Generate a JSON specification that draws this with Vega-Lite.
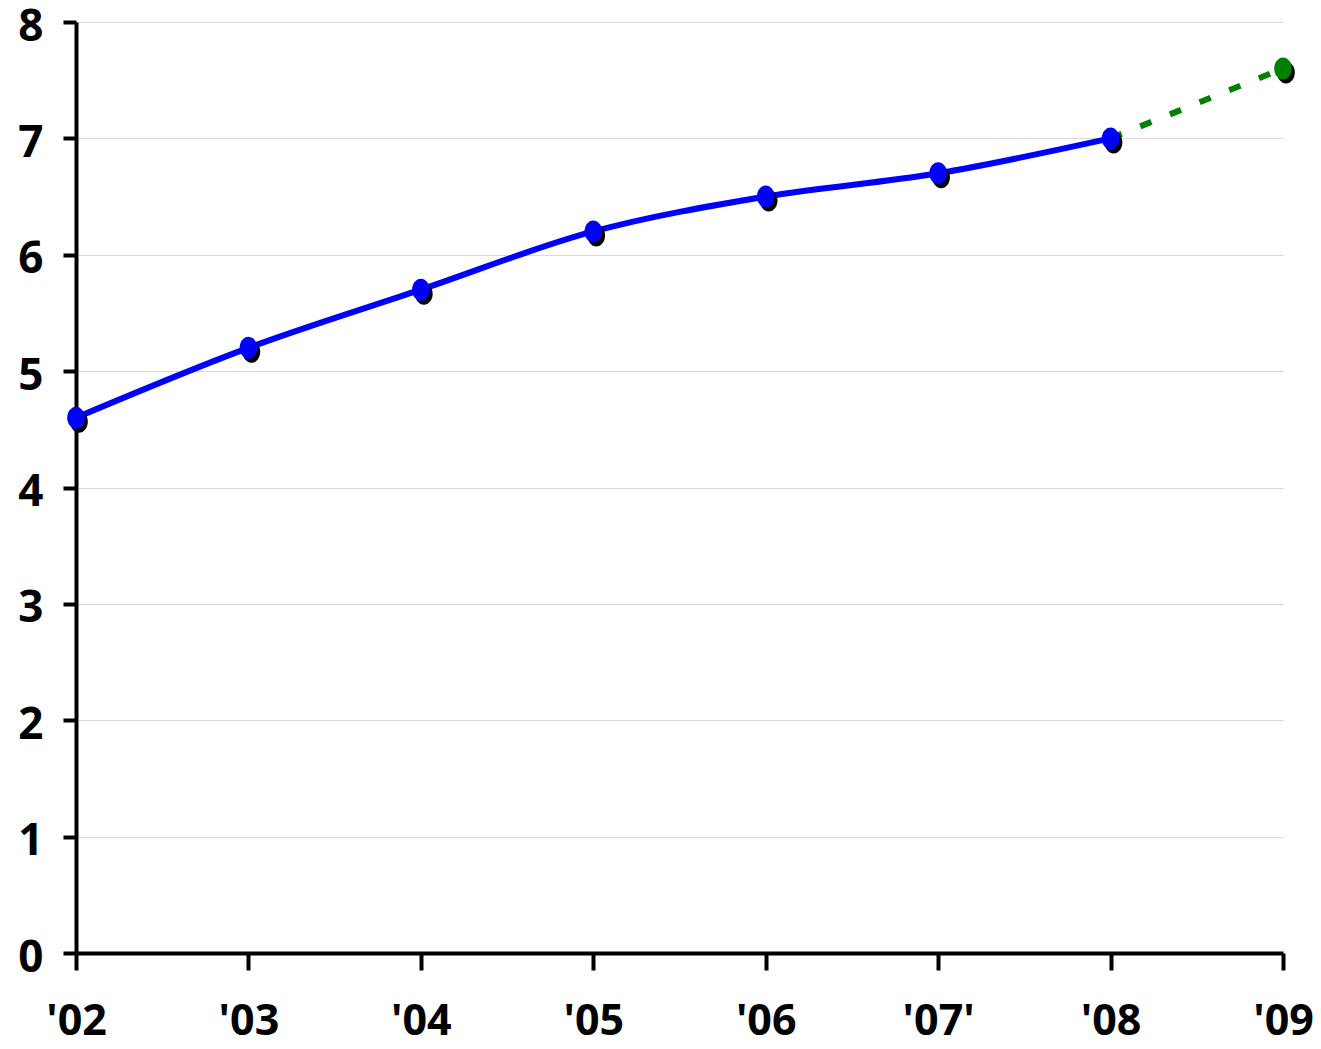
{
  "$schema": "https://vega.github.io/schema/vega-lite/v6.json",
  "width": 1207,
  "height": 931,
  "autosize": "none",
  "padding": {"left": 76, "top": 22, "right": 38, "bottom": 96},
  "background": "white",
  "config": {
    "view": {"stroke": null},
    "font": "Open Sans"
  },
  "data": {
    "values": [
      {"year": "'02", "value": 4.6, "type": "actual"},
      {"year": "'03", "value": 5.2, "type": "actual"},
      {"year": "'04", "value": 5.7, "type": "actual"},
      {"year": "'05", "value": 6.2, "type": "actual"},
      {"year": "'06", "value": 6.5, "type": "actual"},
      {"year": "'07'", "value": 6.7, "type": "actual"},
      {"year": "'08", "value": 7.0, "type": "actual"},
      {"year": "'09", "value": 7.6, "type": "forecast"}
    ]
  },
  "encoding": {
    "x": {
      "field": "year",
      "type": "ordinal",
      "sort": null,
      "scale": {"type": "point", "padding": 0, "domain": ["'02", "'03", "'04", "'05", "'06", "'07'", "'08", "'09"]},
      "axis": {
        "title": null,
        "labelAngle": 0,
        "labelFont": "Open Sans",
        "labelFontWeight": "bold",
        "labelFontSize": 43,
        "labelColor": "black",
        "labelPadding": 30,
        "domainColor": "black",
        "domainWidth": 4,
        "tickColor": "black",
        "tickWidth": 4,
        "tickSize": 17,
        "grid": false
      }
    },
    "y": {
      "field": "value",
      "type": "quantitative",
      "scale": {"domain": [0, 8], "nice": false, "zero": true},
      "axis": {
        "title": null,
        "values": [0, 1, 2, 3, 4, 5, 6, 7, 8],
        "labelFont": "Open Sans",
        "labelFontWeight": "bold",
        "labelFontSize": 44,
        "labelColor": "black",
        "labelPadding": 20,
        "labelOffset": 5,
        "domainColor": "black",
        "domainWidth": 4,
        "tickColor": "black",
        "tickWidth": 4,
        "tickSize": 13,
        "grid": true,
        "gridColor": "#d9d9d9",
        "gridWidth": 1.2
      }
    }
  },
  "layer": [
    {
      "transform": [{"filter": "datum.year == \"'08\" || datum.year == \"'09\""}],
      "mark": {"type": "line", "color": "#008000", "strokeWidth": 6, "strokeDash": [12, 20]}
    },
    {
      "transform": [{"filter": "datum.type == 'actual'"}],
      "mark": {"type": "line", "color": "#0000ff", "strokeWidth": 6, "interpolate": "monotone"}
    },
    {
      "mark": {
        "type": "point",
        "filled": true,
        "opacity": 1,
        "color": "black",
        "size": 484,
        "shape": "M -0.8 0 A 0.8 1 0 1 0 0.8 0 A 0.8 1 0 1 0 -0.8 0 Z",
        "xOffset": 3,
        "yOffset": 4
      }
    },
    {
      "mark": {
        "type": "point",
        "filled": true,
        "opacity": 1,
        "size": 484,
        "shape": "M -0.8 0 A 0.8 1 0 1 0 0.8 0 A 0.8 1 0 1 0 -0.8 0 Z"
      },
      "encoding": {
        "color": {
          "field": "type",
          "type": "nominal",
          "scale": {"domain": ["actual", "forecast"], "range": ["#0000ff", "#008000"]},
          "legend": null
        }
      }
    }
  ]
}
